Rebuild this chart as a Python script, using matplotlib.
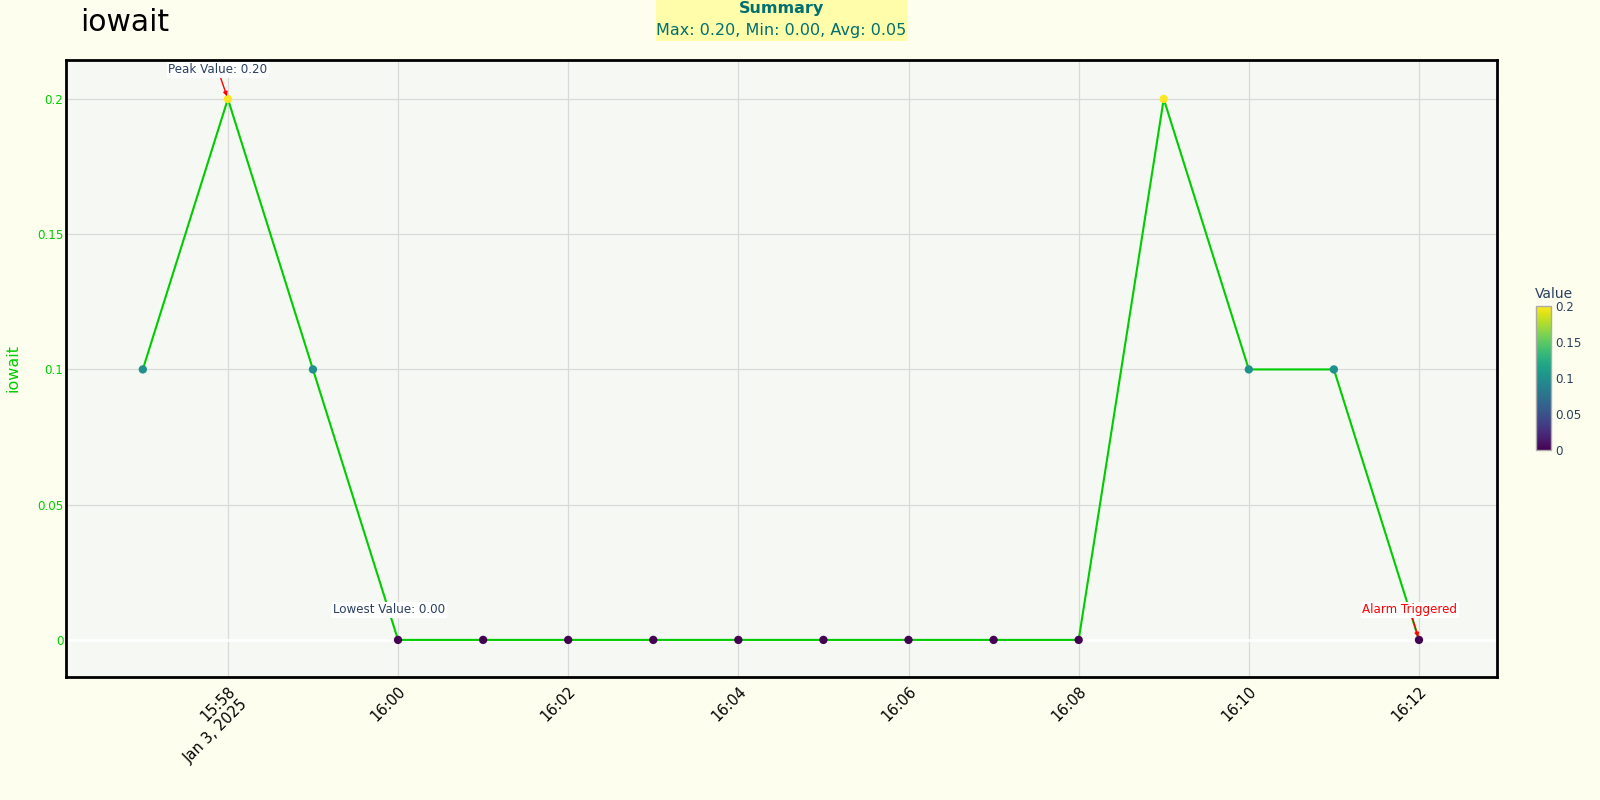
#!/usr/bin/env python3
"""iowait over time, one sample per minute, coloured by value."""

import matplotlib
matplotlib.use("Agg")
import matplotlib.pyplot as plt
import numpy as np
import pandas as pd

# data
times = ["2025-01-03 15:57", "2025-01-03 15:58", "2025-01-03 15:59", "2025-01-03 16:00",
         "2025-01-03 16:01", "2025-01-03 16:02", "2025-01-03 16:03", "2025-01-03 16:04",
         "2025-01-03 16:05", "2025-01-03 16:06", "2025-01-03 16:07", "2025-01-03 16:08",
         "2025-01-03 16:09", "2025-01-03 16:10", "2025-01-03 16:11", "2025-01-03 16:12"]
values = [0.1, 0.2, 0.1, 0.0, 0.0, 0.0, 0.0, 0.0,
          0.0, 0.0, 0.0, 0.0, 0.2, 0.1, 0.1, 0.0]
y_ticks = [0, 0.05, 0.1, 0.15, 0.2]
y_tick_labels = ["0", "0.05", "0.1", "0.15", "0.2"]
cbar_ticks = [0, 0.05, 0.1, 0.15, 0.2]
cbar_tick_labels = ["0", "0.05", "0.1", "0.15", "0.2"]
alarm_time = "2025-01-03 16:12"

PAPER = "#fdfeee"
PLOT_BG = "#f5f8f3"
GREEN = "#00cc00"
TEAL = "#006f6f"
DARK = "#2a3f5f"

t = pd.to_datetime(times)
v = np.array(values)

plt.rcParams["font.family"] = ["DejaVu Sans"]

fig = plt.figure(figsize=(16, 8), dpi=100)
fig.patch.set_facecolor(PAPER)
ax = fig.add_axes([0.0414, 0.1538, 0.8942, 0.7712])
ax.set_facecolor(PLOT_BG)

ax.plot(t, v, color=GREEN, linewidth=1.5, zorder=3)
sc = ax.scatter(t, v, c=v, cmap="viridis", vmin=0, vmax=0.2, s=36,
                edgecolors="none", zorder=4)

# axes ranges
ax.set_ylim(-0.0137, 0.2144)
ax.set_xlim(pd.Timestamp("2025-01-03 15:56:06"), pd.Timestamp("2025-01-03 16:12:55"))

ax.set_yticks(y_ticks)
ax.set_yticklabels(y_tick_labels)
xt = pd.date_range("2025-01-03 15:58", "2025-01-03 16:12", freq="2min")
ax.set_xticks(xt)
xlabels = [d.strftime("%H:%M") for d in xt]
xlabels[0] = xlabels[0] + "\n" + "Jan 3, 2025"
ax.set_xticklabels(xlabels, rotation=45, ha="right", rotation_mode="anchor",
                   multialignment="right", fontsize=10.5, linespacing=1.2)
ax.tick_params(axis="y", length=0, pad=2, labelcolor=GREEN, labelsize=8.6)
ax.tick_params(axis="x", length=0, pad=5, labelcolor="black")

ax.grid(True, color="#d9d9d9", linewidth=0.9, zorder=0)
ax.set_axisbelow(True)
ax.axhline(0, color="white", linewidth=2, zorder=1)
for s in ax.spines.values():
    s.set_color("black")
    s.set_linewidth(2)

ax.set_ylabel("iowait", color=GREEN, fontsize=11.5)
ax.yaxis.set_label_coords(-0.032, 0.5)

# annotations
peak_i = int(np.argmax(v))
low_i = int(np.argmin(v))
box = dict(boxstyle="square,pad=0.15", fc="white", ec="none")
ax.annotate(f"Peak Value: {v.max():.2f}", xy=(t[peak_i], v[peak_i]),
            xytext=(-10, 29), textcoords="offset pixels", ha="center", va="center",
            fontsize=8.6, color=DARK, bbox=box,
            arrowprops=dict(arrowstyle="-|>", color="red", lw=1, mutation_scale=6,
                            shrinkA=0, shrinkB=2), zorder=6)
ax.annotate(f"Lowest Value: {v.min():.2f}", xy=(t[low_i], v[low_i]),
            xytext=(-9, 30), textcoords="offset pixels", ha="center", va="center",
            fontsize=8.6, color=DARK, bbox=box, zorder=6)
ax.annotate("Alarm Triggered", xy=(pd.Timestamp(alarm_time), 0),
            xytext=(-9, 30), textcoords="offset pixels", ha="center", va="center",
            fontsize=8.6, color="red", bbox=box,
            arrowprops=dict(arrowstyle="-|>", color="red", lw=1, mutation_scale=6,
                            shrinkA=0, shrinkB=2), zorder=6)

# title and summary
fig.text(0.05, 0.972, "iowait", fontsize=21.5, color="black", ha="left", va="center")
avg = v.mean()
fig.patches.append(plt.Rectangle((0.41, 0.949), 0.157, 0.051, transform=fig.transFigure,
                                 facecolor="#fffcaa", edgecolor="none"))
fig.text(0.4885, 0.989, "Summary", fontsize=11.5, fontweight="bold", color=TEAL,
         ha="center", va="center")
fig.text(0.4885, 0.962, f"Max: {v.max():.2f}, Min: {v.min():.2f}, Avg: {avg:.2f}",
         fontsize=11.5, color=TEAL, ha="center", va="center")

# colorbar
cax = fig.add_axes([0.96, 0.4375, 0.0094, 0.18])
cb = fig.colorbar(sc, cax=cax, ticks=cbar_ticks)
cb.ax.set_yticklabels(cbar_tick_labels)
cb.ax.tick_params(length=0, pad=3, labelsize=8.6, labelcolor=DARK)
cb.outline.set_edgecolor("#aaaaaa")
cb.outline.set_linewidth(1)
fig.text(0.9715, 0.632, "Value", fontsize=10, color=DARK, ha="center", va="center")

fig.savefig("out.png", dpi=100, facecolor=fig.get_facecolor())
